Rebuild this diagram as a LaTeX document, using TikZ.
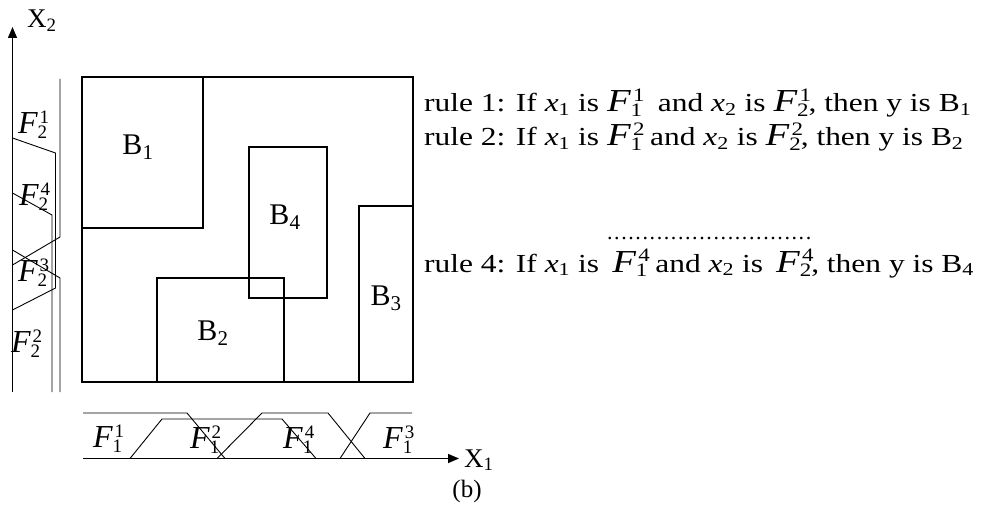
\documentclass[tikz,border=0pt]{standalone}
\usepackage{fontspec}
\usepackage{graphicx}
\setmainfont{Liberation Serif}
\usetikzlibrary{arrows.meta}
\newcommand{\FF}[2]{{\fontsize{32}{32}\selectfont\itshape F}\rlap{\hspace{2pt}\raisebox{10pt}{\fontsize{19}{19}\selectfont #2}}\raisebox{-5pt}{\fontsize{19}{19}\selectfont #1}}
\newcommand{\xx}[1]{\textit{x}\textsubscript{#1}}
\newcommand{\widen}[1]{\scalebox{1.21}[1]{#1}}
\begin{document}
\begin{tikzpicture}[x=1pt,y=-1pt,
  mf/.style={line width=0.9pt},
  axisline/.style={line width=1.5pt,-{Triangle[length=11pt,width=9pt]}},
  boxline/.style={line width=1.4pt},
  lbl/.style={inner sep=0pt,anchor=center,font=\fontsize{30}{30}\selectfont},
  axlbl/.style={inner sep=0pt,anchor=base west,font=\fontsize{27}{27}\selectfont},
  flbl/.style={inner sep=0pt,anchor=base west,font=\fontsize{20}{20}\selectfont},
  rulelbl/.style={inner sep=0pt,anchor=base west,font=\fontsize{26}{26}\selectfont}]
\useasboundingbox (0,0) rectangle (992,529);
% axes
\coordinate (o2) at (12.5,392);
\coordinate (t2) at (12.5,27);
\draw[axisline] (o2) -- (t2);
\node[axlbl] (X2) at (27,28) {X\textsubscript{2}};
\coordinate (o1) at (83,458.5);
\coordinate (t1) at (459,458.5);
\draw[axisline] (o1) -- (t1);
\node[axlbl] (X1) at (464,467) {X\textsubscript{1}};
% main box and consequent regions
\draw[boxline] (82,77) rectangle (413,382);
\draw[boxline] (82,77) rectangle (203,228);
\draw[boxline] (249,147) rectangle (327,298);
\draw[boxline] (157,278) rectangle (284,382);
\draw[boxline] (359,206) rectangle (413,382);
\node[lbl] (B1) at (138,147) {B\textsubscript{1}};
\node[lbl] (B4) at (285,217) {B\textsubscript{4}};
\node[lbl] (B2) at (213,333) {B\textsubscript{2}};
\node[lbl] (B3) at (386,298) {B\textsubscript{3}};
% membership functions on X2
\draw[mf] (60,79) -- (60,237) -- (12.5,265);
\draw[mf] (12.5,138) -- (55.5,153) -- (55.5,288) -- (12.5,310);
\draw[mf] (12.5,193) -- (52,215) -- (52,392);
\draw[mf] (12.5,250) -- (60,278) -- (60,392);
\node[flbl] (F21) at (18,134) {\FF{2}{1}};
\node[flbl] (F24) at (19,206) {\FF{2}{4}};
\node[flbl] (F23) at (18,281) {\FF{2}{3}};
\node[flbl] (F22) at (11,352) {\FF{2}{2}};
% membership functions on X1
\draw[mf] (83,413) -- (187,413) -- (225,458.5);
\draw[mf] (130,458.5) -- (162,419) -- (282,419) -- (316,458.5);
\draw[mf] (217,458.5) -- (262,413) -- (328,413) -- (365,458.5);
\draw[mf] (340,458.5) -- (370,413) -- (412,413);
\node[flbl] (F11) at (93,447) {\FF{1}{1}};
\node[flbl] (F12) at (190,448) {\FF{1}{2}};
\node[flbl] (F14) at (283,448) {\FF{1}{4}};
\node[flbl] (F13) at (383,448) {\FF{1}{3}};
% rules
\node[rulelbl] (r1) at (424,112) {\widen{rule 1: If \xx{1} is \FF{1}{1}\ \ and \xx{2} is \FF{2}{1}, then y is B\textsubscript{1}}};
\node[rulelbl] (r2) at (424,146) {\widen{rule 2: If \xx{1} is \FF{1}{2} and \xx{2} is \FF{2}{2}, then y is B\textsubscript{2}}};
\node[rulelbl] (dots) at (606,239.5) {\makebox[206pt][l]{\fontsize{22}{22}\selectfont\xleaders\hbox to 7pt{\hss.\hss}\hfill}};
\node[rulelbl] (r4) at (424,272) {\widen{rule 4: If \xx{1} is \,\FF{1}{4} and \xx{2} is \,\FF{2}{4}, then y is B\textsubscript{4}}};
\node[inner sep=0pt,font=\fontsize{25}{25}\selectfont] (cap) at (467,491) {(b)};
\end{tikzpicture}
\end{document}
